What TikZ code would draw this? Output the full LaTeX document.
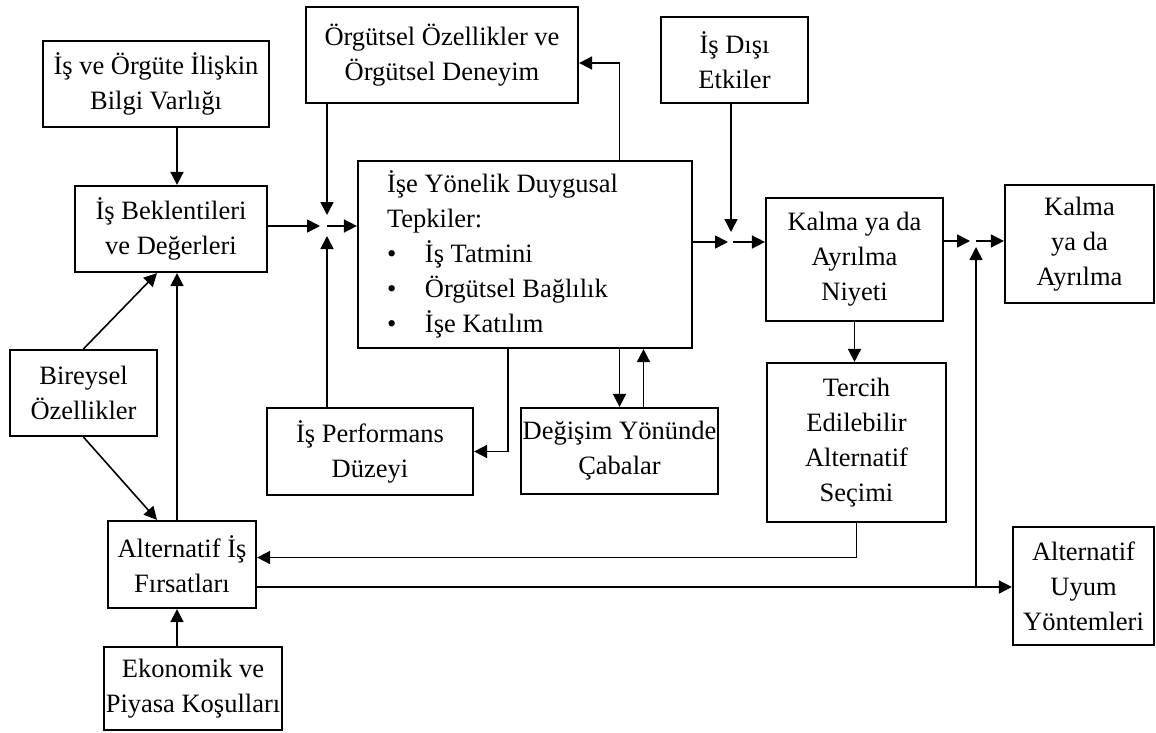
\documentclass[tikz,border=0pt]{standalone}
\usepackage{fontspec}
\setmainfont{Liberation Serif}
\usetikzlibrary{arrows.meta,shapes}
\tikzstyle{obox}=[rectangle,draw=black!100,line width=2.2pt,align=center,inner sep=2pt,font=\fontsize{26.5pt}{35pt}\selectfont]
\tikzstyle{dflow}=[-{Triangle[length=13pt,width=13pt]}, line width=1.6pt]

\begin{document}
\begin{tikzpicture}[dflow,x=1pt,y=-1pt]
\useasboundingbox (0,0) rectangle (1156,733);
\node[obox,minimum width=226pt,minimum height=86pt] (B) at (156,84) {İş ve Örgüte İlişkin\\Bilgi Varlığı};
\node[obox,minimum width=272pt,minimum height=96pt] (O) at (442,55) {Örgütsel Özellikler ve\\Örgütsel Deneyim};
\node[obox,minimum width=147pt,minimum height=86pt] (D) at (734.5,60) {İş Dışı\\Etkiler};
\node[obox,minimum width=192pt,minimum height=86pt] (E) at (171,229) {İş Beklentileri\\ve Değerleri};
\node[obox,minimum width=334pt,minimum height=187pt,text width=276pt,align=flush left] (T) at (525,254.5) {İşe Yönelik Duygusal\\Tepkiler:\\\makebox[38pt][l]{\textbullet}İş Tatmini\\\makebox[38pt][l]{\textbullet}Örgütsel Bağlılık\\\makebox[38pt][l]{\textbullet}İşe Katılım};
\node[obox,minimum width=177pt,minimum height=123pt] (N) at (854.5,259.5) {Kalma ya da\\Ayrılma\\Niyeti};
\node[obox,minimum width=149pt,minimum height=118pt] (K) at (1079.5,244) {Kalma\\ya da\\Ayrılma};
\node[obox,minimum width=147pt,minimum height=86pt] (R) at (83.5,393) {Bireysel\\Özellikler};
\node[obox,minimum width=206pt,minimum height=87pt] (P) at (370,451.5) {İş Performans\\Düzeyi};
\node[obox,minimum width=177pt,minimum height=86pt] (G) at (619.5,451) {Değişim Yönünde\\Çabalar};
\node[obox,minimum width=179pt,minimum height=159pt] (S) at (856.5,442.5) {Tercih\\Edilebilir\\Alternatif\\Seçimi};
\node[obox,minimum width=148pt,minimum height=87pt] (F) at (182,564.5) {Alternatif İş\\Fırsatları};
\node[obox,minimum width=141pt,minimum height=118pt] (U) at (1083.5,586) {Alternatif\\Uyum\\Yöntemleri};
\node[obox,minimum width=170pt,minimum height=83pt] (Z) at (193,688.5) {Ekonomik ve\\Piyasa Koşulları};
\coordinate (J1) at (327,226);
\coordinate (J2) at (731,242);
\coordinate (J3) at (976,241);
\coordinate (J4) at (976,587);
\coordinate (AX) at (177,0);
\draw (B.south -| AX)--(E.north -| AX);
\draw[shorten >=7pt] (E.east |- J1)--(J1);\draw[shorten >=11pt] (O.south -| J1)--(J1);\draw[shorten >=10pt] (P.north -| J1)--(J1);\draw (J1)--(T.west |- J1);
\draw[shorten >=3pt] (T.east |- J2)--(J2);\draw[shorten >=10pt] (D.south -| J2)--(J2);\draw[shorten <=2pt] (J2)--(N.west |- J2);
\draw[shorten >=6pt] (N.east |- J3)--(J3);\draw[shorten >=6pt] (J4)--(J3);\draw (J3)--(K.west |- J3);
\draw (T.north -| G.north) |- ([yshift=-8pt]O.east);
\draw (T.south -| G.north)--(G.north);
\coordinate (G2) at ([xshift=24pt]G.north);\draw (G2)--(G2 |- T.south);
\draw ([xshift=-17pt]T.south) |- (P.east);
\draw (N.south)--(N.south |- S.north);
\draw (S.south) |- ([yshift=7pt]F.east);
\draw (F.east |- J4)--(U.west |- J4);
\draw (R.north)--([xshift=-14pt]E.south);\draw (R.south)--([xshift=-25pt]F.north);
\draw (F.north -| AX)--(E.south -| AX);\draw (Z.north -| AX)--(F.south -| AX);
\end{tikzpicture}
\end{document}
